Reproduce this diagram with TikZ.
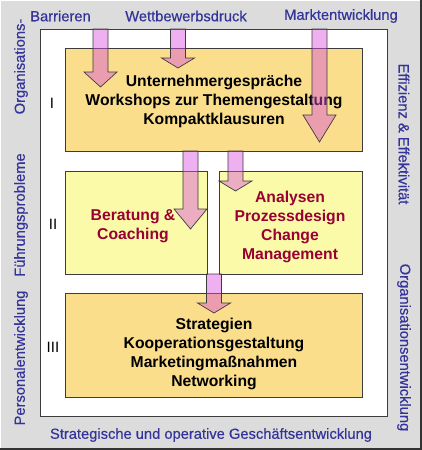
\documentclass[tikz,border=0pt]{standalone}
\usepackage{fontspec}
\setmainfont{Liberation Sans}
\newfontfamily\lblfont[FakeBold=0.4]{Liberation Sans}
\definecolor{bggray}{RGB}{220,220,220}
\definecolor{lblue}{RGB}{51,51,153}
\definecolor{boxor}{RGB}{250,222,140}
\definecolor{boxye}{RGB}{250,250,168}
\definecolor{dred}{RGB}{153,0,51}
\definecolor{arrfill}{RGB}{218,80,222}
\definecolor{edge}{RGB}{60,60,60}
\tikzset{
  lbl/.style={text=lblue, font=\lblfont\fontsize{14.7}{17}\selectfont, inner sep=0pt},
  boxa/.style={draw=edge, line width=0.8pt, fill=boxor, anchor=north west, inner sep=0pt},
  boxb/.style={draw=edge, line width=0.8pt, fill=boxye, anchor=north west, inner sep=0pt},
  btxt/.style={font=\fontsize{15.7}{19}\selectfont\bfseries, align=center, inner sep=0pt},
  roman/.style={font=\fontsize{15}{18}\selectfont, inner sep=0pt},
  arr/.style={draw=edge, line width=0.7pt, fill=arrfill, fill opacity=0.45, line join=miter},
}
\newcommand\blkarrow[4]{%
  \draw[arr] ({#1-7.5},#2) -- ({#1+7.5},#2) -- ({#1+7.5},#3) -- ({#1+16.5},#3)
    -- (#1,#4) -- ({#1-16.5},#3) -- ({#1-7.5},#3) -- cycle;}
\begin{document}
\begin{tikzpicture}[x=1pt,y=-1pt]
\useasboundingbox (0,0) rectangle (422,450);
% background frame
\fill[bggray] (0,0) rectangle (422,450);
\draw[white, line width=1pt] (0.5,449) -- (0.5,0.5) -- (421,0.5);
\draw[black!80, line width=2.5pt] (0,449) -- (421,449) -- (421,0);
% white inner area
\node[draw=edge, line width=0.8pt, fill=white, anchor=north west, inner sep=0pt,
      minimum width=347pt, minimum height=387pt] (w) at (40,29) {};
% boxes
\node[boxa, minimum width=297pt, minimum height=103pt] (b1) at (65,48) {};
\node[boxb, minimum width=142pt, minimum height=103pt] (b2l) at (65,171) {};
\node[boxb, minimum width=143pt, minimum height=103pt] (b2r) at (219,171) {};
\node[boxa, minimum width=297pt, minimum height=104pt] (b3) at (65,293) {};
% box texts
\node[btxt] (t1) at (214,101) {Unternehmergespräche\\Workshops zur Themengestaltung\\Kompaktklausuren};
\node[btxt, text=dred] (t2l) at (133,226) {Beratung \&\\Coaching};
\node[btxt, text=dred] (t2r) at (290,226.5) {Analysen\\Prozessdesign\\Change\\Management};
\node[btxt] (t3) at (214,353.5) {Strategien\\Kooperationsgestaltung\\Marketingmaßnahmen\\Networking};
% roman numerals
\node[roman] (r1) at (52,103) {I};
\node[roman] (r2) at (53,224) {II};
\node[roman] (r3) at (53,347) {III};
% arrows
\blkarrow{100.5}{29}{72}{87}
\blkarrow{178}{29}{58}{68}
\blkarrow{319.5}{29}{115}{142}
\blkarrow{190.5}{151}{209}{229}
\blkarrow{235.5}{151}{181}{191}
\blkarrow{214}{274}{303}{313}
% outer labels
\node[lbl] (top1) at (60.5,16) {Barrieren};
\node[lbl] (top2) at (186,16) {Wettbewerbsdruck};
\node[lbl] (top3) at (341,16) {Marktentwicklung};
\node[lbl] (bot) at (211,435) {Strategische und operative Geschäftsentwicklung};
\node[lbl, rotate=90] (l1) at (21,66.5) {Organisations-};
\node[lbl, rotate=90] (l2) at (21,215) {Führungsprobleme};
\node[lbl, rotate=90] (l3) at (21,358) {Personalentwicklung};
\node[lbl, rotate=-90] (r1l) at (404,134) {Effizienz \& Effektivität};
\node[lbl, rotate=-90] (r2l) at (404,347.5) {Organisationsentwicklung};
\end{tikzpicture}
\end{document}
